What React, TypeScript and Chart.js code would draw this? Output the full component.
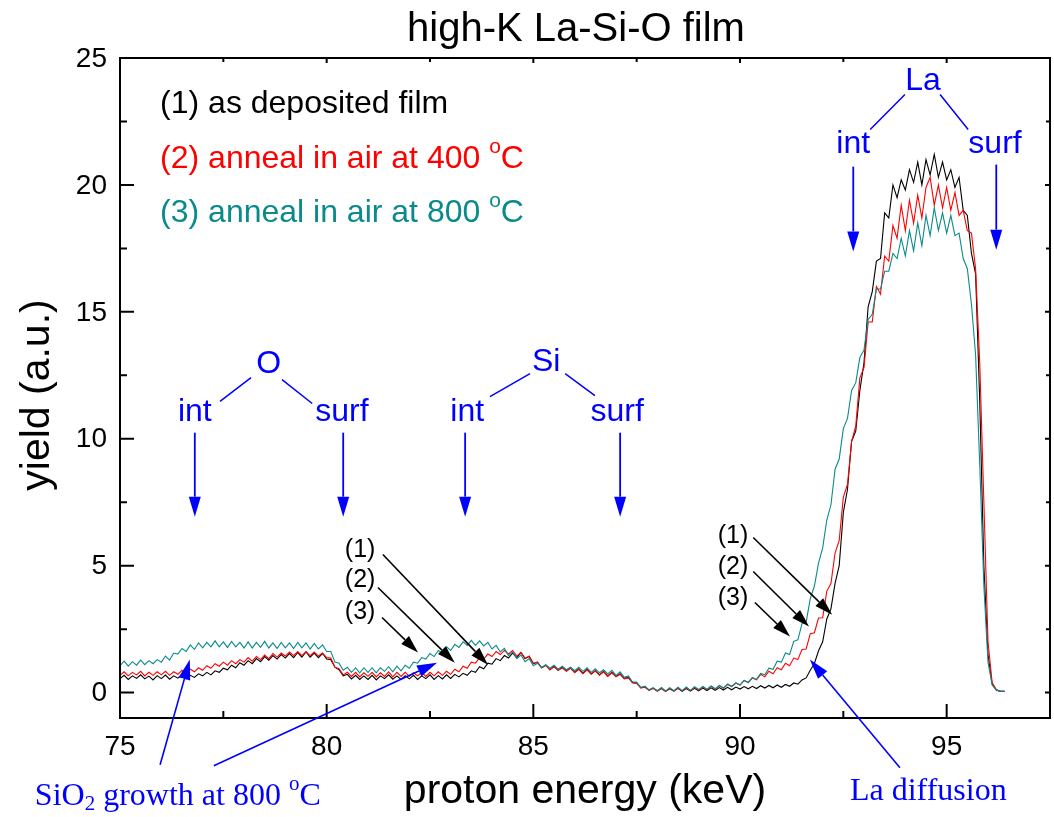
import React, { useEffect, useRef } from 'react';
import { Chart, registerables } from 'chart.js';

Chart.register(...registerables);

// Energy channels: 75.0 keV to 96.4 keV, 0.1 keV per channel
const E_START = 75.0;
const E_STEP = 0.1;

// (1) as deposited film
const SERIES_1 = [
  0.55, 0.68, 0.52, 0.66, 0.56, 0.7, 0.54, 0.65, 0.5, 0.67,
  0.55, 0.69, 0.53, 0.66, 0.57, 0.7, 0.55, 0.68, 0.6, 0.74,
  0.66, 0.8, 0.7, 0.86, 0.8, 0.96, 0.9, 1.08, 0.98, 1.18,
  1.08, 1.26, 1.14, 1.34, 1.22, 1.42, 1.28, 1.46, 1.32, 1.5,
  1.36, 1.54, 1.38, 1.58, 1.4, 1.6, 1.4, 1.56, 1.38, 1.54,
  1.32, 1.3, 1.0, 0.9, 0.66, 0.72, 0.54, 0.68, 0.52, 0.66,
  0.52, 0.68, 0.5, 0.66, 0.55, 0.7, 0.53, 0.66, 0.52, 0.67,
  0.54, 0.68, 0.52, 0.66, 0.55, 0.7, 0.52, 0.67, 0.54, 0.7,
  0.56, 0.72, 0.62, 0.76, 0.68, 0.86, 0.8, 1.02, 0.94, 1.16,
  1.12, 1.34, 1.26, 1.46, 1.36, 1.56, 1.38, 1.58, 1.34, 1.42,
  1.14, 1.2, 0.98, 1.08, 0.9, 1.04, 0.88, 1.0, 0.86, 0.98,
  0.8, 0.94, 0.76, 0.92, 0.74, 0.86, 0.7, 0.84, 0.66, 0.8,
  0.64, 0.74, 0.56, 0.6, 0.4, 0.38, 0.2, 0.22, 0.1, 0.17,
  0.06, 0.16, 0.05, 0.15, 0.06, 0.17, 0.05, 0.16, 0.06, 0.17,
  0.07, 0.18, 0.08, 0.19, 0.09, 0.2, 0.1, 0.21, 0.11, 0.22,
  0.14, 0.24, 0.15, 0.25, 0.16, 0.27, 0.18, 0.28, 0.19, 0.3,
  0.21, 0.32, 0.25, 0.38, 0.33, 0.5, 0.58, 0.88, 1.15, 1.65,
  2.0, 2.9, 3.3, 4.3, 5.0, 7.1, 8.0, 9.9, 10.3, 11.9,
  13.0, 15.2, 15.8, 17.0, 17.1, 18.9, 18.7, 20.0, 19.5, 20.2,
  19.8, 20.6, 20.1, 20.9, 20.0, 21.0, 20.4, 21.2, 20.3, 20.9,
  20.2, 20.6, 19.9, 20.3, 19.0, 18.8, 17.3, 16.5, 11.5, 5.0,
  1.5, 0.35, 0.1, 0.05, 0.05,
];

// (2) anneal in air at 400 C
const SERIES_2 = [
  0.68, 0.82, 0.66, 0.8, 0.7, 0.84, 0.66, 0.8, 0.68, 0.82,
  0.7, 0.84, 0.68, 0.82, 0.72, 0.88, 0.76, 0.92, 0.82, 0.98,
  0.88, 1.06, 0.96, 1.14, 1.04, 1.2, 1.08, 1.26, 1.14, 1.3,
  1.2, 1.38, 1.24, 1.42, 1.3, 1.48, 1.34, 1.54, 1.4, 1.56,
  1.44, 1.6, 1.46, 1.62, 1.46, 1.62, 1.46, 1.6, 1.44, 1.56,
  1.38, 1.36, 1.0, 0.94, 0.7, 0.8, 0.64, 0.8, 0.62, 0.78,
  0.64, 0.8, 0.62, 0.78, 0.64, 0.82, 0.62, 0.8, 0.64, 0.8,
  0.64, 0.78, 0.66, 0.8, 0.64, 0.8, 0.66, 0.82, 0.68, 0.84,
  0.72, 0.92, 0.82, 1.04, 0.96, 1.2, 1.16, 1.38, 1.32, 1.52,
  1.42, 1.62, 1.5, 1.66, 1.52, 1.66, 1.44, 1.58, 1.34, 1.44,
  1.16, 1.2, 0.98, 1.08, 0.9, 1.02, 0.88, 0.98, 0.84, 0.96,
  0.78, 0.92, 0.74, 0.9, 0.72, 0.86, 0.68, 0.82, 0.64, 0.78,
  0.62, 0.72, 0.54, 0.58, 0.38, 0.36, 0.18, 0.22, 0.09, 0.17,
  0.06, 0.17, 0.05, 0.16, 0.06, 0.18, 0.07, 0.19, 0.08, 0.2,
  0.1, 0.22, 0.12, 0.25, 0.14, 0.28, 0.17, 0.32, 0.24, 0.38,
  0.3, 0.48, 0.4, 0.58, 0.5, 0.72, 0.62, 0.84, 0.74, 0.98,
  0.9, 1.16, 1.06, 1.36, 1.3, 1.7, 1.72, 2.32, 2.36, 2.94,
  2.95, 4.0, 4.3, 5.5, 6.0, 7.7, 8.2, 9.9, 10.5, 12.4,
  12.8, 14.6, 14.6, 16.0, 15.7, 17.2, 17.0, 18.4, 17.9, 19.2,
  18.2, 19.4, 18.5, 19.6, 18.7, 19.9, 20.3, 19.2, 20.0, 19.1,
  19.9, 19.0, 19.7, 18.8, 19.0, 18.2, 18.1, 16.7, 13.0, 7.5,
  2.0, 0.4, 0.12, 0.05, 0.05,
];

// (3) anneal in air at 800 C
const SERIES_3 = [
  1.06, 1.24, 1.04, 1.22, 1.08, 1.28, 1.1, 1.26, 1.14, 1.3,
  1.2, 1.44, 1.28, 1.56, 1.52, 1.74, 1.62, 1.88, 1.7, 1.96,
  1.76, 1.98, 1.8, 2.04, 1.8, 2.0, 1.78, 2.02, 1.8, 1.98,
  1.76, 2.0, 1.76, 1.98, 1.78, 2.02, 1.76, 1.96, 1.74, 1.98,
  1.76, 1.96, 1.74, 1.98, 1.76, 1.96, 1.72, 1.94, 1.72, 1.88,
  1.62, 1.62, 1.2, 1.16, 0.88, 1.0, 0.8, 0.98, 0.78, 0.98,
  0.8, 0.98, 0.78, 0.98, 0.84, 1.02, 0.82, 1.04, 0.86, 1.08,
  0.96, 1.2, 1.16, 1.38, 1.32, 1.54, 1.42, 1.66, 1.56, 1.8,
  1.66, 1.9, 1.78, 2.0, 1.86, 2.06, 1.86, 2.04, 1.84, 1.98,
  1.72, 1.86, 1.6, 1.74, 1.46, 1.6, 1.34, 1.48, 1.22, 1.34,
  1.06, 1.16, 0.98, 1.1, 0.96, 1.08, 0.92, 1.04, 0.9, 1.0,
  0.86, 1.0, 0.84, 0.98, 0.8, 0.94, 0.78, 0.9, 0.74, 0.88,
  0.68, 0.82, 0.6, 0.66, 0.42, 0.42, 0.2, 0.26, 0.11, 0.2,
  0.08, 0.2, 0.07, 0.19, 0.08, 0.21, 0.08, 0.22, 0.09, 0.23,
  0.12, 0.24, 0.13, 0.26, 0.15, 0.28, 0.18, 0.34, 0.24, 0.38,
  0.3, 0.48, 0.4, 0.6, 0.52, 0.76, 0.7, 0.96, 0.92, 1.24,
  1.2, 1.56, 1.5, 2.02, 2.08, 2.72, 2.78, 3.7, 4.2, 5.1,
  5.7, 6.8, 7.4, 8.8, 9.2, 10.4, 10.8, 11.9, 12.2, 13.2,
  13.5, 14.7, 14.9, 15.9, 15.9, 16.6, 16.6, 17.3, 17.1, 17.9,
  17.2, 18.2, 17.4, 18.5, 17.6, 18.8, 18.0, 19.1, 18.2, 18.9,
  18.1, 18.8, 18.0, 18.1, 17.1, 16.7, 15.3, 13.3, 9.0, 4.2,
  1.2, 0.3, 0.1, 0.05, 0.05,
];

const ENERGY = SERIES_1.map((_, i) => Math.round((E_START + i * E_STEP) * 10) / 10);

const X_MAJOR = [75, 80, 85, 90, 95];
const X_MINOR = [77.5, 82.5, 87.5, 92.5];
const Y_MAJOR = [0, 5, 10, 15, 20, 25];
const Y_MINOR = [2.5, 7.5, 12.5, 17.5, 22.5];

const TITLE = 'high-K La-Si-O film';
const X_TITLE = 'proton energy (keV)';
const Y_TITLE = 'yield (a.u.)';

const BLACK = '#000000';
const RED = '#ff0000';
const TEAL = '#0a8a8a';
const BLUE = '#0000ff';

// Element labels (data coords)
const ELEMENT_LABELS = [
  { text: 'O', x: 78.6, y: 12.92 },
  { text: 'int', x: 76.81, y: 11.03 },
  { text: 'surf', x: 80.37, y: 11.03 },
  { text: 'Si', x: 85.31, y: 13.0 },
  { text: 'int', x: 83.4, y: 11.03 },
  { text: 'surf', x: 87.03, y: 11.03 },
  { text: 'La', x: 94.43, y: 24.07 },
  { text: 'int', x: 92.74, y: 21.59 },
  { text: 'surf', x: 96.17, y: 21.59 },
];

const DOWN_ARROWS = [
  { x: 76.81, y1: 10.24, y2: 6.93 },
  { x: 80.4, y1: 10.24, y2: 6.93 },
  { x: 83.35, y1: 10.24, y2: 6.93 },
  { x: 87.1, y1: 10.24, y2: 6.93 },
  { x: 92.74, y1: 20.72, y2: 17.38 },
  { x: 96.2, y1: 20.8, y2: 17.45 },
];

const CONNECTORS = [
  [77.42, 11.47, 78.17, 12.41],
  [78.92, 12.33, 79.65, 11.39],
  [83.95, 11.66, 84.92, 12.57],
  [85.77, 12.57, 86.49, 11.7],
  [93.15, 22.18, 93.99, 23.56],
  [94.84, 23.56, 95.52, 22.18],
];

const NUM_ARROWS = [
  { label: '(1)', lx: 80.81, ly: 5.63, x1: 81.36, y1: 5.44, x2: 83.9, y2: 1.1 },
  { label: '(2)', lx: 80.81, ly: 4.45, x1: 81.24, y1: 4.14, x2: 83.1, y2: 1.18 },
  { label: '(3)', lx: 80.81, ly: 3.19, x1: 81.34, y1: 2.96, x2: 82.21, y2: 1.58 },
  { label: '(1)', lx: 89.83, ly: 6.15, x1: 90.32, y1: 6.11, x2: 92.23, y2: 3.07 },
  { label: '(2)', lx: 89.83, ly: 4.93, x1: 90.32, y1: 4.77, x2: 91.67, y2: 2.6 },
  { label: '(3)', lx: 89.83, ly: 3.74, x1: 90.36, y1: 3.55, x2: 91.21, y2: 2.21 },
];

const BLUE_ARROWS = [
  [75.97, -2.84, 76.69, 1.3],
  [77.27, -2.88, 82.67, 1.18],
  [93.87, -2.96, 91.69, 1.3],
];

const SANS = '"Liberation Sans", Arial, sans-serif';
const SERIF = '"Liberation Serif", "Times New Roman", serif';

type Part = { t: string; size: number; dy?: number; family?: string };

function drawRich(ctx: CanvasRenderingContext2D, parts: Part[], x: number, y: number, color: string) {
  ctx.fillStyle = color;
  ctx.textAlign = 'left';
  ctx.textBaseline = 'middle';
  let cx = x;
  for (const p of parts) {
    ctx.font = `${p.size}px ${p.family || SANS}`;
    ctx.fillText(p.t, cx, y + (p.dy || 0));
    cx += ctx.measureText(p.t).width;
  }
}

function arrow(ctx: CanvasRenderingContext2D, x1: number, y1: number, x2: number, y2: number,
  color: string, lw: number, headLen: number, headW: number) {
  const ang = Math.atan2(y2 - y1, x2 - x1);
  const bx = x2 - headLen * Math.cos(ang);
  const by = y2 - headLen * Math.sin(ang);
  ctx.strokeStyle = color;
  ctx.lineWidth = lw;
  ctx.beginPath();
  ctx.moveTo(x1, y1);
  ctx.lineTo(bx, by);
  ctx.stroke();
  ctx.fillStyle = color;
  ctx.beginPath();
  ctx.moveTo(x2, y2);
  ctx.lineTo(bx + (headW / 2) * Math.sin(ang), by - (headW / 2) * Math.cos(ang));
  ctx.lineTo(bx - (headW / 2) * Math.sin(ang), by + (headW / 2) * Math.cos(ang));
  ctx.closePath();
  ctx.fill();
}

const decorPlugin = {
  id: 'decor',
  afterDraw(chart: any) {
    const ctx: CanvasRenderingContext2D = chart.ctx;
    const xs = chart.scales.x;
    const ys = chart.scales.y;
    const area = chart.chartArea;
    const X = (v: number) => xs.getPixelForValue(v);
    const Y = (v: number) => ys.getPixelForValue(v);
    ctx.save();

    // frame
    ctx.strokeStyle = BLACK;
    ctx.lineWidth = 2;
    ctx.strokeRect(area.left, area.top, area.right - area.left, area.bottom - area.top);

    // ticks
    ctx.lineWidth = 2;
    ctx.beginPath();
    for (const v of X_MAJOR) {
      const px = X(v);
      ctx.moveTo(px, area.bottom); ctx.lineTo(px, area.bottom - 14);
      ctx.moveTo(px, area.top); ctx.lineTo(px, area.top + 5);
    }
    for (const v of X_MINOR) {
      const px = X(v);
      ctx.moveTo(px, area.bottom); ctx.lineTo(px, area.bottom - 7);
      ctx.moveTo(px, area.top); ctx.lineTo(px, area.top + 4);
    }
    for (const v of Y_MAJOR) {
      const py = Y(v);
      ctx.moveTo(area.left, py); ctx.lineTo(area.left + 14, py);
      ctx.moveTo(area.right, py); ctx.lineTo(area.right - 5, py);
    }
    for (const v of Y_MINOR) {
      const py = Y(v);
      ctx.moveTo(area.left, py); ctx.lineTo(area.left + 7, py);
      ctx.moveTo(area.right, py); ctx.lineTo(area.right - 4, py);
    }
    ctx.stroke();

    // tick labels
    ctx.fillStyle = BLACK;
    ctx.font = `28px ${SANS}`;
    ctx.textAlign = 'center';
    ctx.textBaseline = 'middle';
    for (const v of X_MAJOR) ctx.fillText(String(v), X(v), area.bottom + 29);
    ctx.textAlign = 'right';
    for (const v of Y_MAJOR) ctx.fillText(String(v), area.left - 13, Y(v) + 1);

    // titles
    ctx.textAlign = 'center';
    ctx.font = `40px ${SANS}`;
    ctx.fillText(TITLE, 576, 30);
    ctx.font = `41px ${SANS}`;
    ctx.fillText(X_TITLE, 585, 792);
    ctx.save();
    ctx.translate(38, 395);
    ctx.rotate(-Math.PI / 2);
    ctx.fillText(Y_TITLE, 0, 0);
    ctx.restore();

    // legend texts
    drawRich(ctx, [{ t: '(1) as deposited film', size: 32 }], X(75.97), Y(23.2), BLACK);
    drawRich(ctx, [
      { t: '(2) anneal in air at 400 ', size: 32 },
      { t: 'o', size: 21, dy: -12 },
      { t: 'C', size: 32 },
    ], X(75.97), Y(21.0), RED);
    drawRich(ctx, [
      { t: '(3) anneal in air at 800 ', size: 32 },
      { t: 'o', size: 21, dy: -12 },
      { t: 'C', size: 32 },
    ], X(75.97), Y(18.9), TEAL);

    // element labels
    ctx.fillStyle = BLUE;
    ctx.font = `32px ${SANS}`;
    ctx.textAlign = 'center';
    ctx.textBaseline = 'middle';
    for (const l of ELEMENT_LABELS) ctx.fillText(l.text, X(l.x), Y(l.y));
    ctx.strokeStyle = BLUE;
    ctx.lineWidth = 1.5;
    ctx.beginPath();
    for (const c of CONNECTORS) {
      ctx.moveTo(X(c[0]), Y(c[1]));
      ctx.lineTo(X(c[2]), Y(c[3]));
    }
    ctx.stroke();
    for (const a of DOWN_ARROWS) arrow(ctx, X(a.x), Y(a.y1), X(a.x), Y(a.y2), BLUE, 1.8, 20, 12);

    // numbered black arrows
    for (const a of NUM_ARROWS) {
      ctx.fillStyle = BLACK;
      ctx.font = `25px ${SANS}`;
      ctx.textAlign = 'center';
      ctx.textBaseline = 'middle';
      ctx.fillText(a.label, X(a.lx), Y(a.ly));
      arrow(ctx, X(a.x1), Y(a.y1), X(a.x2), Y(a.y2), BLACK, 1.6, 18, 11);
    }

    // blue annotation arrows
    for (const b of BLUE_ARROWS) arrow(ctx, X(b[0]), Y(b[1]), X(b[2]), Y(b[3]), BLUE, 1.6, 20, 12);
    drawRich(ctx, [
      { t: 'SiO', size: 32, family: SERIF },
      { t: '2', size: 21, dy: 8, family: SERIF },
      { t: ' growth at 800 ', size: 32, family: SERIF },
      { t: 'o', size: 21, dy: -12, family: SERIF },
      { t: 'C', size: 32, family: SERIF },
    ], X(72.94), Y(-4.1), BLUE);
    drawRich(ctx, [{ t: 'La diffusion', size: 32, family: SERIF }], X(92.66), Y(-3.9), BLUE);

    ctx.restore();
  },
};

export default function App() {
  const ref = useRef<HTMLCanvasElement | null>(null);
  useEffect(() => {
    if (!ref.current) return;
    const mk = (arr: number[]) => arr.map((v, i) => ({ x: ENERGY[i], y: v }));
    const chart = new Chart(ref.current, {
      type: 'line',
      data: {
        datasets: [
          { label: '(3)', data: mk(SERIES_3), borderColor: TEAL, borderWidth: 1.1, pointRadius: 0, order: 1 },
          { label: '(2)', data: mk(SERIES_2), borderColor: RED, borderWidth: 1.1, pointRadius: 0, order: 2 },
          { label: '(1)', data: mk(SERIES_1), borderColor: BLACK, borderWidth: 1.1, pointRadius: 0, order: 3 },
        ],
      },
      options: {
        animation: false,
        responsive: false,
        layout: { padding: { left: 0, right: 4, top: 58, bottom: 0 } },
        plugins: { legend: { display: false }, tooltip: { enabled: false }, title: { display: false } },
        elements: { line: { tension: 0 } },
        scales: {
          x: {
            type: 'linear', min: 75, max: 97.5,
            grid: { display: false }, border: { display: false },
            ticks: { display: false },
            afterFit: (s: any) => { s.height = 99; },
          },
          y: {
            type: 'linear', min: -1, max: 25,
            grid: { display: false }, border: { display: false },
            ticks: { display: false },
            afterFit: (s: any) => { s.width = 120; },
          },
        },
      },
      plugins: [decorPlugin],
    });
    return () => chart.destroy();
  }, []);
  return (
    <canvas
      ref={ref}
      width={1054}
      height={817}
      style={{ position: 'absolute', left: 0, top: 0, display: 'block', background: '#fff' }}
    />
  );
}
